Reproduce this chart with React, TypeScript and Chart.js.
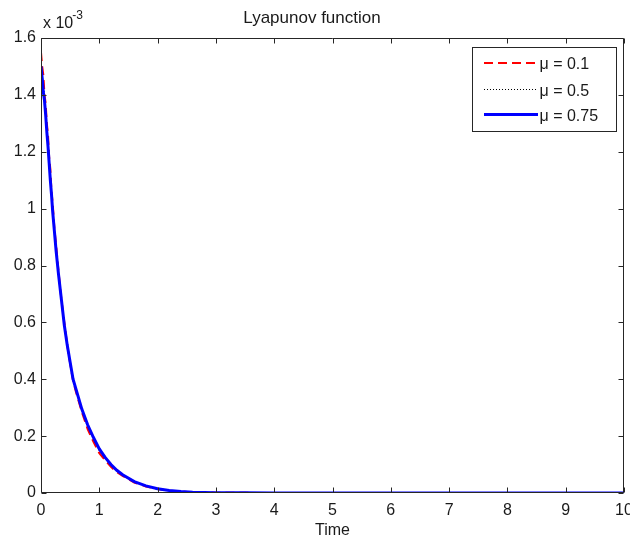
import React, { useEffect, useRef } from "react";
import { Chart, registerables } from "chart.js";

Chart.register(...registerables);

const TITLE = "Lyapunov function";
const X_LABEL = "Time";
const EXP_BASE = "x 10";
const EXP_POWER = "-3";

const xTicks = [0, 1, 2, 3, 4, 5, 6, 7, 8, 9, 10];
const yTicks = [0, 0.2, 0.4, 0.6, 0.8, 1, 1.2, 1.4, 1.6];

const seriesLabels = ["\u03bc = 0.1", "\u03bc = 0.5", "\u03bc = 0.75"];

const time = [
  0, 0.02, 0.04, 0.06, 0.08, 0.1, 0.12, 0.14, 0.16, 0.18, 0.2, 0.23, 0.26, 0.3,
  0.35, 0.4, 0.45, 0.5, 0.55, 0.6, 0.7, 0.8, 0.9, 1.0, 1.1, 1.2, 1.3, 1.4, 1.6,
  1.8, 2.0, 2.2, 2.4, 2.6, 2.8, 3.0, 3.5, 4, 5, 6, 7, 8, 9, 10,
];

// values in units of 1e-3
const mu01 = [
  1.55, 1.5, 1.47, 1.4, 1.37, 1.3, 1.26, 1.18, 1.14, 1.06, 1.02, 0.93, 0.87,
  0.78, 0.68, 0.6, 0.52, 0.455, 0.395, 0.355, 0.285, 0.225, 0.18, 0.14, 0.115,
  0.092, 0.074, 0.06, 0.037, 0.023, 0.014, 0.008, 0.0045, 0.003, 0.002, 0.001,
  0.0005, 0, 0, 0, 0, 0, 0, 0,
];

const mu05 = [
  1.52, 1.48, 1.43, 1.39, 1.34, 1.28, 1.23, 1.17, 1.12, 1.06, 1.0, 0.925, 0.86,
  0.775, 0.68, 0.595, 0.52, 0.457, 0.398, 0.36, 0.29, 0.232, 0.188, 0.148, 0.12,
  0.096, 0.077, 0.062, 0.038, 0.024, 0.0145, 0.0085, 0.0048, 0.003, 0.002, 0.001,
  0.0005, 0, 0, 0, 0, 0, 0, 0,
];

const mu075 = [
  1.5, 1.46, 1.41, 1.38, 1.33, 1.27, 1.22, 1.16, 1.1, 1.05, 0.99, 0.92, 0.85,
  0.77, 0.68, 0.59, 0.52, 0.46, 0.4, 0.365, 0.295, 0.24, 0.195, 0.155, 0.125,
  0.1, 0.08, 0.064, 0.04, 0.025, 0.015, 0.009, 0.005, 0.003, 0.002, 0.001,
  0.0005, 0, 0, 0, 0, 0, 0, 0,
];

const TEXT_COLOR = "#1a1a1a";
const FONT_FAMILY = "'Liberation Sans', Arial, Helvetica, sans-serif";

const frameAndTicksPlugin = {
  id: "frameAndTicks",
  afterDatasetsDraw(chart: any) {
    const { ctx, chartArea, scales } = chart;
    const { left, right, top, bottom } = chartArea;
    const L = Math.round(left) + 0.5;
    const R = Math.round(right) - 0.5;
    const T = Math.round(top) + 0.5;
    const B = Math.round(bottom) - 0.5;
    ctx.save();
    ctx.strokeStyle = "#262626";
    ctx.lineWidth = 1;
    ctx.setLineDash([]);
    ctx.beginPath();
    ctx.rect(L, T, R - L, B - T);
    ctx.stroke();
    const len = 5;
    ctx.beginPath();
    xTicks.forEach((v) => {
      const px = Math.round(scales.x.getPixelForValue(v)) + 0.5;
      ctx.moveTo(px, B);
      ctx.lineTo(px, B - len);
      ctx.moveTo(px, T);
      ctx.lineTo(px, T + len);
    });
    yTicks.forEach((v) => {
      const py = Math.round(scales.y.getPixelForValue(v)) + 0.5;
      ctx.moveTo(L, py);
      ctx.lineTo(L + len, py);
      ctx.moveTo(R, py);
      ctx.lineTo(R - len, py);
    });
    ctx.stroke();

    // exponent label
    ctx.fillStyle = TEXT_COLOR;
    ctx.textAlign = "left";
    ctx.textBaseline = "alphabetic";
    ctx.font = `16px ${FONT_FAMILY}`;
    ctx.fillText(EXP_BASE, 43, 28);
    const w = ctx.measureText(EXP_BASE).width;
    ctx.font = `12px ${FONT_FAMILY}`;
    ctx.fillText(EXP_POWER, 43 + w - 1, 19);
    ctx.restore();
  },
};

const boxLegendPlugin = {
  id: "boxLegend",
  afterDraw(chart: any) {
    const { ctx, chartArea } = chart;
    const bx = Math.round(chartArea.right) - 152 + 0.5;
    const by = Math.round(chartArea.top) + 9 + 0.5;
    const bw = 144;
    const bh = 84;
    ctx.save();
    ctx.fillStyle = "#ffffff";
    ctx.fillRect(bx, by, bw, bh);
    ctx.strokeStyle = "#262626";
    ctx.lineWidth = 1;
    ctx.setLineDash([]);
    ctx.strokeRect(bx, by, bw, bh);
    const rows = [15, 41, 66];
    chart.data.datasets.forEach((ds: any, i: number) => {
      const odd = Math.round(ds.borderWidth) % 2 === 1;
      const y = Math.round(by + rows[i]) + (odd ? 0.5 : 0);
      ctx.beginPath();
      ctx.strokeStyle = ds.borderColor;
      ctx.lineWidth = ds.borderWidth;
      ctx.setLineDash(ds.borderDash || []);
      ctx.moveTo(Math.round(bx + 11), y);
      ctx.lineTo(Math.round(bx + 65), y);
      ctx.stroke();
      ctx.setLineDash([]);
      ctx.fillStyle = TEXT_COLOR;
      ctx.font = `16px ${FONT_FAMILY}`;
      ctx.textAlign = "left";
      ctx.textBaseline = "middle";
      ctx.fillText(ds.label, bx + 67, Math.round(y) + 2);
    });
    ctx.restore();
  },
};

export default function App() {
  const canvasRef = useRef<HTMLCanvasElement | null>(null);

  useEffect(() => {
    if (!canvasRef.current) return;
    Chart.defaults.font.family = FONT_FAMILY;
    Chart.defaults.color = TEXT_COLOR;
    const mk = (vals: number[]) => time.map((t, i) => ({ x: t, y: vals[i] }));
    const chart = new Chart(canvasRef.current, {
      type: "line",
      data: {
        datasets: [
          {
            label: seriesLabels[0],
            data: mk(mu01),
            borderColor: "#ff0000",
            borderWidth: 2,
            borderDash: [9, 5],
            pointRadius: 0,
            tension: 0,
            fill: false,
            order: 2,
          },
          {
            label: seriesLabels[1],
            data: mk(mu05),
            borderColor: "#000000",
            borderWidth: 1,
            borderDash: [1, 2],
            pointRadius: 0,
            tension: 0,
            fill: false,
            order: 1,
          },
          {
            label: seriesLabels[2],
            data: mk(mu075),
            borderColor: "#0000ff",
            borderWidth: 3,
            pointRadius: 0,
            tension: 0,
            fill: false,
            order: 0,
          },
        ],
      },
      plugins: [frameAndTicksPlugin, boxLegendPlugin],
      options: {
        responsive: false,
        animation: false,
        events: [],
        layout: { padding: { top: 0, right: 6, left: 0, bottom: 0 } },
        plugins: {
          legend: { display: false },
          tooltip: { enabled: false },
          title: {
            display: true,
            text: TITLE,
            color: TEXT_COLOR,
            font: { size: 17, weight: "normal" as any, family: FONT_FAMILY },
            padding: { top: 8, bottom: 9.6 },
          },
        },
        scales: {
          x: {
            type: "linear",
            min: 0,
            max: 10,
            afterBuildTicks: (scale: any) => {
              scale.ticks = xTicks.map((v) => ({ value: v }));
            },
            afterFit: (scale: any) => {
              scale.height = 49;
              scale.paddingLeft = 0;
              scale.paddingRight = 0;
            },
            grid: { display: false, drawTicks: false },
            border: { display: false },
            ticks: {
              padding: 8,
              color: TEXT_COLOR,
              font: { size: 16 },
              maxRotation: 0,
              autoSkip: false,
              callback: (v: any) => String(v),
            },
            title: {
              display: true,
              text: X_LABEL,
              color: TEXT_COLOR,
              font: { size: 16 },
              padding: { top: 0, bottom: 2 },
            },
          },
          y: {
            type: "linear",
            min: 0,
            max: 1.6,
            afterBuildTicks: (scale: any) => {
              scale.ticks = yTicks.map((v) => ({ value: v }));
            },
            afterFit: (scale: any) => {
              scale.width = 41;
              scale.paddingTop = 0;
              scale.paddingBottom = 0;
            },
            grid: { display: false, drawTicks: false },
            border: { display: false },
            ticks: {
              padding: 5,
              color: TEXT_COLOR,
              font: { size: 16 },
              autoSkip: false,
              callback: (v: any) => String(Math.round(Number(v) * 10) / 10),
            },
          },
        },
      },
    });
    return () => chart.destroy();
  }, []);

  return (
    <div
      style={{
        position: "fixed",
        left: 0,
        top: 0,
        width: 630,
        height: 542,
        background: "#ffffff",
      }}
    >
      <canvas ref={canvasRef} width={630} height={542} />
    </div>
  );
}
